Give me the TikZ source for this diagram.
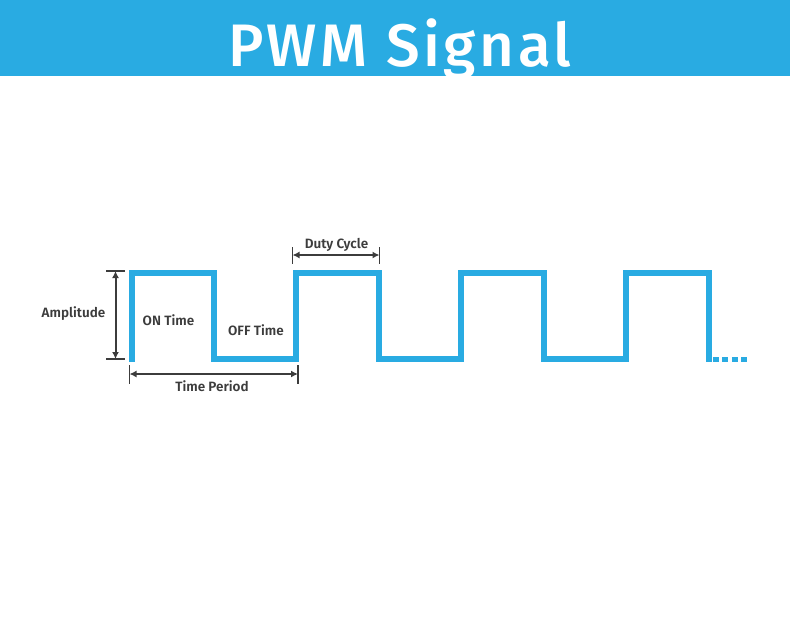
\documentclass[tikz,border=0pt]{standalone}
\usepackage{fontspec}
\setmainfont{Fira Sans}
\newfontfamily\titlefont{Fira Sans Medium}
\newfontfamily\lblfont{Fira Sans SemiBold}
\usetikzlibrary{arrows.meta}
\definecolor{pwmblue}{HTML}{29ABE2}
\definecolor{dimgrey}{HTML}{3C3C3C}
\begin{document}
\begin{tikzpicture}[x=1pt,y=-1pt,
  signal/.style={draw=pwmblue, line width=6pt, line join=miter},
  dimline/.style={draw=dimgrey, line width=2pt, {Latex[length=7pt,width=7pt]}-{Latex[length=7pt,width=7pt]}},
  tickline/.style={draw=dimgrey, line width=1.2pt},
  lbl/.style={text=dimgrey, font=\lblfont\fontsize{13.5}{16}\selectfont, inner sep=0pt, anchor=base}]
\useasboundingbox (0,0) rectangle (790,630);
\fill[pwmblue] (0,0) rectangle (790,76);
\node[text=white, inner sep=0pt, anchor=base, font=\titlefont\fontsize{60}{70}\selectfont\addfontfeatures{LetterSpace=6}] (title) at (400,66) {PWM Signal};
% waveform
\draw[signal] (131.5,362) -- (131.5,272.5) -- (213.5,272.5) -- (213.5,359) -- (296,359)
  -- (296,272.5) -- (378.5,272.5) -- (378.5,359) -- (461,359)
  -- (461,272.5) -- (543.5,272.5) -- (543.5,359) -- (626,359)
  -- (626,272.5) -- (708.5,272.5) -- (708.5,362);
\coordinate (dotsA) at (713,359.5);
\coordinate (dotsB) at (748,359.5);
\draw[pwmblue, line width=5.5pt, dash pattern=on 6pt off 3.4pt] (dotsA) -- (dotsB);
% amplitude
\coordinate (ampT) at (115.5,271);
\coordinate (ampB) at (115.5,359);
\coordinate (ampTl) at (106,271); \coordinate (ampTr) at (125,271);
\coordinate (ampBl) at (106,359); \coordinate (ampBr) at (125,359);
\draw[tickline] (ampTl) -- (ampTr);
\draw[tickline] (ampBl) -- (ampBr);
\draw[dimline] (ampT) -- (ampB);
% time period
\coordinate (tpLt) at (129.5,365); \coordinate (tpLb) at (129.5,384);
\coordinate (tpRt) at (298,365); \coordinate (tpRb) at (298,384);
\coordinate (tpL) at (129.5,374); \coordinate (tpR) at (298,374);
\draw[tickline] (tpLt) -- (tpLb);
\draw[tickline] (tpRt) -- (tpRb);
\draw[dimline] (tpL) -- (tpR);
% duty cycle
\coordinate (dcLt) at (292.5,247); \coordinate (dcLb) at (292.5,264);
\coordinate (dcRt) at (379.5,247); \coordinate (dcRb) at (379.5,264);
\coordinate (dcL) at (292.5,255); \coordinate (dcR) at (379.5,255);
\draw[tickline] (dcLt) -- (dcLb);
\draw[tickline] (dcRt) -- (dcRb);
\draw[dimline] (dcL) -- (dcR);
% labels
\node[lbl] (amp) at (73.5,317.5) {Amplitude};
\node[lbl] (on) at (168.5,325) {ON Time};
\node[lbl] (off) at (256,335) {OFF Time};
\node[lbl] (tp) at (212,391.5) {Time Period};
\node[lbl] (dc) at (336.5,248.5) {Duty Cycle};
\end{tikzpicture}
\end{document}
